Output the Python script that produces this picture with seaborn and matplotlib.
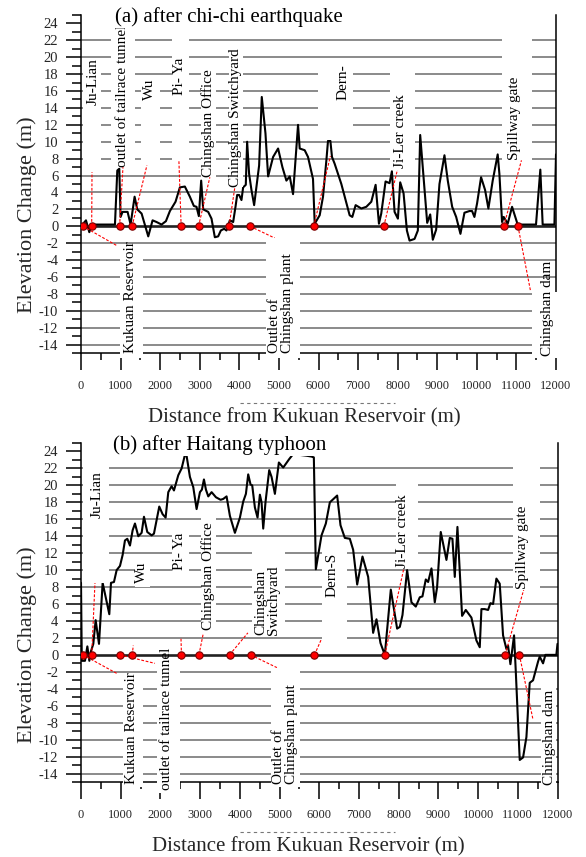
import matplotlib
matplotlib.use("Agg")
import numpy as np
import pandas as pd
import matplotlib.pyplot as plt
import seaborn as sns
from matplotlib.patches import Rectangle
from matplotlib.lines import Line2D
from matplotlib.ticker import MultipleLocator, FixedLocator

sns.set_theme(style="white")
plt.rcParams["font.family"] = ["Liberation Serif", "DejaVu Serif"]
plt.rcParams["axes.unicode_minus"] = False

# ---------------- data ----------------
# (a) after chi-chi earthquake
dist_a = [0, 126, 210, 270, 858, 917, 967, 1000, 1050, 1177,
          1253, 1354, 1421, 1531, 1699, 1808, 1909, 2035, 2145, 2246,
          2388, 2498, 2624, 2750, 2851, 2918, 2977, 3036, 3087, 3213,
          3297, 3381, 3465, 3533, 3617, 3675, 3760, 3844, 3903, 3945,
          3995, 4054, 4096, 4163, 4197, 4247, 4306, 4374, 4500, 4567,
          4660, 4727, 4853, 4979, 5088, 5189, 5273, 5357, 5483, 5525,
          5651, 5735, 5861, 5904, 6030, 6114, 6199, 6240, 6300, 6341,
          6408, 6577, 6787, 6854, 6938, 7082, 7208, 7334, 7443, 7527,
          7585, 7694, 7795, 7854, 7922, 8006, 8064, 8149, 8233, 8300,
          8426, 8510, 8569, 8746, 8822, 8888, 8972, 9056, 9182, 9266,
          9377, 9478, 9586, 9687, 9813, 9880, 9939, 10006, 10107, 10208,
          10292, 10401, 10527, 10570, 10637, 10679, 10780, 10890, 11032, 11495,
          11604, 11663, 11960, 12000]
elev_a = [0.0, 0.7, -0.7, 0.2, 0.2, 6.6, 6.8, 1.1, 1.7, 1.7,
          0.2, 3.5, 2.0, 1.5, -1.2, 0.7, 0.5, 0.2, 0.6, 1.8,
          2.9, 4.6, 4.7, 3.5, 2.4, 2.3, 1.2, 5.4, 2.0, 1.7,
          0.9, -1.3, -1.2, -0.5, -0.3, -0.5, 0.7, 0.5, 2.3, 3.7,
          3.7, 3.1, 4.6, 4.9, 10.0, 6.2, 4.3, 2.5, 7.2, 15.3,
          11.0, 5.9, 8.2, 9.2, 7.0, 5.4, 5.9, 3.8, 12.0, 9.2,
          9.0, 8.2, 5.6, 0.3, 1.3, 3.5, 7.8, 10.1, 10.1, 8.2,
          7.4, 5.0, 1.3, 1.1, 2.5, 2.1, 2.3, 2.9, 4.9, 0.3,
          1.5, 5.3, 5.1, 6.5, 1.7, 0.9, 5.2, 3.9, -0.5, -1.7,
          -1.5, -0.5, 10.8, 0.4, 1.4, -1.6, -0.4, 5.0, 8.4, 5.4,
          2.3, 1.1, -0.9, 1.6, 1.8, 1.8, 1.1, 2.7, 5.8, 4.3,
          2.1, 5.4, 8.5, 6.2, 0.5, 1.1, 0.3, 2.3, 0.2, 0.2,
          6.7, 0.2, 0.2, 8.5]

# (b) after Haitang typhoon
dist_b = [0, 20, 100, 160, 210, 243, 310, 369, 453, 545,
          713, 755, 830, 898, 982, 1049, 1107, 1166, 1233, 1300,
          1359, 1443, 1527, 1586, 1669, 1779, 1837, 1971, 2055, 2131,
          2198, 2282, 2341, 2450, 2534, 2617, 2659, 2743, 2827, 2911,
          2995, 3045, 3096, 3146, 3205, 3289, 3398, 3515, 3582, 3666,
          3750, 3876, 4002, 4086, 4153, 4211, 4270, 4312, 4379, 4446,
          4505, 4547, 4589, 4648, 4740, 4799, 4883, 4983, 5092, 5243,
          5344, 5500, 5680, 5805, 5864, 5914, 6057, 6166, 6267, 6451,
          6535, 6644, 6770, 6854, 6955, 7089, 7232, 7357, 7441, 7542,
          7651, 7802, 7961, 8029, 8096, 8213, 8322, 8431, 8532, 8599,
          8683, 8742, 8826, 8909, 8968, 9060, 9203, 9287, 9354, 9413,
          9480, 9597, 9690, 9832, 9958, 10042, 10084, 10168, 10252, 10310,
          10378, 10461, 10545, 10629, 10713, 10755, 10814, 10906, 10948, 11049,
          11133, 11217, 11300, 11384, 11510, 11552, 11636, 11695, 11971, 12000]
elev_b = [8.5, -0.7, -0.7, 1.0, -0.7, 0.3, 1.3, 4.1, 1.3, 8.5,
          4.8, 8.5, 8.6, 10.0, 10.5, 11.8, 13.5, 13.7, 12.9, 14.7,
          15.5, 14.0, 14.4, 16.3, 14.5, 14.1, 14.3, 17.5, 16.6, 16.2,
          19.2, 19.9, 19.4, 21.2, 22.0, 23.6, 23.5, 21.0, 19.8, 17.2,
          19.2, 19.5, 20.7, 19.5, 18.7, 19.2, 18.6, 18.3, 18.4, 18.7,
          16.4, 14.4, 16.2, 18.1, 19.0, 21.3, 20.1, 20.0, 17.4, 16.2,
          18.9, 18.0, 14.9, 18.1, 21.8, 21.0, 19.0, 22.7, 22.1, 23.1,
          23.7, 23.6, 23.5, 23.4, 23.3, 10.1, 14.1, 15.5, 18.0, 18.8,
          15.3, 13.8, 13.7, 12.4, 8.3, 11.6, 9.2, 2.6, 4.2, 1.4,
          0.0, 7.7, 3.1, 3.3, 4.7, 10.0, 6.2, 5.7, 6.8, 6.9,
          8.9, 8.6, 10.2, 6.2, 8.0, 14.5, 11.2, 13.8, 13.7, 9.2,
          15.1, 4.6, 5.3, 4.4, 1.7, 0.9, 5.4, 5.4, 5.3, 6.1,
          6.0, 9.0, 8.4, 2.3, 0.7, 1.1, -1.1, 2.3, -1.8, -12.4,
          -12.1, -9.7, -3.3, -3.0, -0.8, -0.2, -1.0, 0.0, 0.0, 1.3]

# stations (red dots on the 0 line)
station_x = [50, 270, 975, 1290, 2530, 2970, 3740, 4270, 5880, 7650, 10680, 11040]

titles = ["(a) after chi-chi earthquake", "(b) after Haitang typhoon"]
x_ticks = list(range(0, 12001, 1000))
y_ticks = list(range(-14, 25, 2))

# ---------------- layout (label placement, not data) ----------------
# name, station index, text x, text bottom y, box (x0, x1, y0, y1), leader end (x, y)
layout_a = [
    ("Kukuan Reservoir", 0, 1240, -15.0, (984, 1560, -15.6, -2.6), (908, -2.3)),
    ("Ju-Lian", 1, 295, 14.3, (60, 505, 6.4, 19.8), (278, 6.4)),
    ("outlet of tailrace tunnel", 2, 1060, 7.0, (757, 1362, 7.0, 24.5), (1060, 7.0)),
    ("Wu", 3, 1741, 14.9, (1514, 1993, 7.2, 17.8), (1665, 7.2)),
    ("Pi- Ya", 4, 2498, 15.5, (2296, 2725, 7.8, 22.3), (2473, 7.8)),
    ("Chingshan Office", 5, 3204, 5.8, (3028, 3406, 5.8, 19.6), (3255, 5.8)),
    ("Chingshan Switchyard", 6, 3911, 4.6, (3734, 4087, 4.6, 21.0), (3886, 4.6)),
    ("Outlet of\nChingshan plant", 7, 5046, -15.0, (4668, 5525, -15.6, -1.4), (4895, -1.4)),
    ("Dern-", 8, 6610, 14.9, (5980, 6863, 10.2, 19.2), (6300, 8.3)),
    ("Ji-Ler creek", 9, 8060, 6.9, (7796, 8427, 6.6, 19.5), (8010, 7.0)),
    ("Spillway gate", 10, 10950, 7.8, (10647, 11404, 7.8, 23.5), (11127, 7.8)),
    ("Chingshan dam", 11, 11783, -15.3, (11404, 12136, -15.6, -7.8), (11354, -7.6)),
]
layout_b = [
    ("Ju-Lian", 1, 395, 16.1, (60, 705, 8.5, 24.6), (352, 8.5)),
    ("Kukuan Reservoir", 0, 1284, -15.2, (1057, 1561, -15.6, -2.6), (906, -2.2)),
    ("outlet of tailrace tunnel", 2, 2165, -16.0, (1913, 2492, -16.3, -0.5), (1862, -1.0)),
    ("Wu", 3, 1535, 8.5, (1359, 1737, 8.0, 11.6), (1316, 1.1)),
    ("Pi- Ya", 4, 2492, 10.0, (2290, 2718, 9.5, 14.5), (2517, 2.1)),
    ("Chingshan Office", 5, 3197, 2.9, (3020, 3398, 2.5, 17.6), (3078, 2.5)),
    ("Chingshan\nSwitchyard", 6, 4694, 2.3, (4304, 5135, 2.3, 12.8), (4203, 2.6)),
    ("Outlet of\nChingshan plant", 7, 5147, -15.2, (4782, 5512, -15.6, -1.5), (4933, -1.5)),
    ("Dern-S", 8, 6318, 6.8, (6066, 6695, 1.9, 13.3), (6058, 1.9)),
    ("Ji-Ler creek", 9, 8105, 10.3, (7929, 8483, 10.2, 21.0), (8130, 10.2)),
    ("Spillway gate", 10, 11125, 7.8, (10873, 11553, 7.7, 23.5), (11150, 7.7)),
    ("Chingshan dam", 11, 11805, -15.4, (11578, 11956, -15.6, -3.4), (11377, -7.5)),
]

W, H = 586, 857
fig = plt.figure(figsize=(W / 100, H / 100), dpi=100)
fig.patch.set_facecolor("white")


def axes_px(l, t, r, b):
    return fig.add_axes([l / W, 1 - b / H, (r - l) / W, (b - t) / H])


def draw_panel(ax, dist, elev, layout, title, title_x):
    ax.set_facecolor("white")
    grid_levels = [v for v in y_ticks if v != 0 and v <= 22]
    ax.hlines(grid_levels, 0, 12000, colors="#8a8a8a", lw=1.4, zorder=1)
    ax.axhline(0, color="#222222", lw=1.9, zorder=2)

    df = pd.DataFrame({"dist": dist, "elev": elev})
    sns.lineplot(data=df, x="dist", y="elev", color="black", lw=1.5,
                 sort=False, estimator=None, ax=ax, zorder=3)

    st = pd.DataFrame({"x": station_x, "y": [0.0] * len(station_x)})
    for name, idx, tx, ty, box, lead in layout:
        ax.plot([station_x[idx], lead[0]], [0, lead[1]], color="red", lw=0.8,
                ls=(0, (2.5, 1.5)), zorder=4)
        x0, x1, y0, y1 = box
        ax.add_patch(Rectangle((x0, y0), x1 - x0, y1 - y0, facecolor="white",
                               edgecolor="none", zorder=6, clip_on=False))
        ax.text(tx, ty, name, rotation=90, ha="center", va="bottom",
                multialignment="left", linespacing=1.0, fontsize=11,
                color="black", zorder=7, clip_on=False)
    sns.scatterplot(data=st, x="x", y="y", color="red", edgecolor="#7a0000",
                    s=28, linewidth=0.8, ax=ax, zorder=5)

    ax.text(title_x, 24.7, title, ha="left", va="center", fontsize=15,
            color="black", zorder=7,
            bbox=dict(facecolor="white", edgecolor="none", pad=0.5))

    ax.set_xlim(0, 12000)
    ax.set_ylim(-15, 25)
    ax.set_xlabel("")
    ax.set_ylabel("")
    ax.spines["top"].set_visible(False)
    for s in ["left", "right", "bottom"]:
        ax.spines[s].set_color("black")
        ax.spines[s].set_linewidth(1.1)
    ax.xaxis.set_major_locator(FixedLocator(x_ticks))
    ax.xaxis.set_minor_locator(MultipleLocator(500))
    ax.yaxis.set_major_locator(FixedLocator(y_ticks))
    ax.yaxis.set_minor_locator(MultipleLocator(1))
    ax.tick_params(axis="x", which="major", direction="out", length=12.2,
                   width=1.1, pad=7, labelsize=9, bottom=True, color="black")
    ax.tick_params(axis="x", which="minor", direction="out", length=5,
                   width=1.1, bottom=True, color="black")
    ax.tick_params(axis="y", which="major", direction="out", length=10.8,
                   width=1.1, pad=5.5, labelsize=10.5, left=True, color="black")
    ax.tick_params(axis="y", which="minor", direction="out", length=6.5,
                   width=1.1, left=True, color="black")
    ax.grid(False)


ax_a = axes_px(81, 15, 556, 353)
ax_b = axes_px(81, 443, 557.5, 782)
draw_panel(ax_a, dist_a, elev_a, layout_a, titles[0], 858)
draw_panel(ax_b, dist_b, elev_b, layout_b, titles[1], 806)

for cy, xc, ly in [(215, 304.5, 418), (645, 308, 846.5)]:
    fig.text(27.5 / W, 1 - cy / H, "Elevation Change (m)", rotation=90,
             ha="center", va="center", fontsize=16)
    fig.text(xc / W, 1 - ly / H, "Distance from Kukuan Reservoir (m)",
             ha="center", va="center", fontsize=15)

for yy in [403, 832]:
    fig.add_artist(Line2D([240 / W, 395 / W], [1 - yy / H, 1 - yy / H],
                          color="#777777", lw=0.8, ls=(0, (3, 3))))

fig.savefig("out.png", dpi=100, facecolor="white")
